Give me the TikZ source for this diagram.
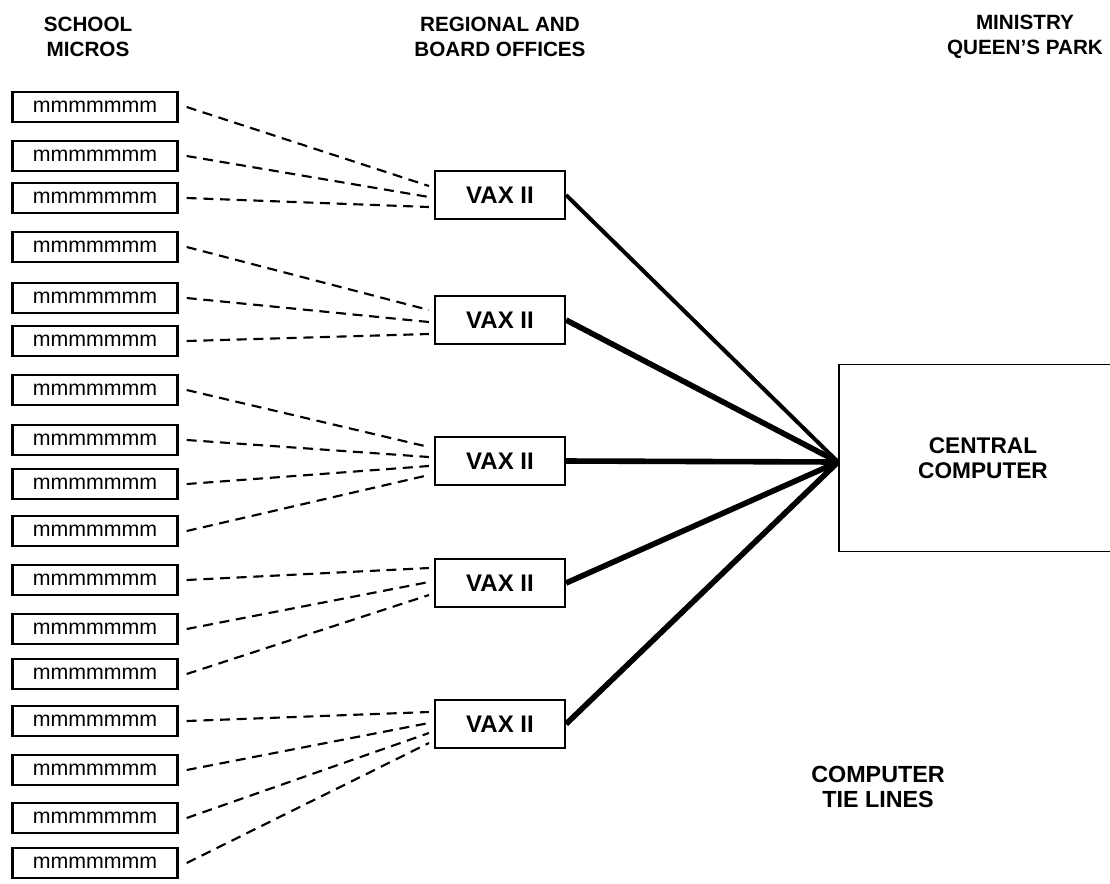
\documentclass[tikz,border=0pt]{standalone}
\usepackage{fontspec}
\setmainfont{Liberation Sans}
\usetikzlibrary{calc}

\tikzset{every picture/.style={line width=0.75pt}}
\tikzset{
	micro/.style={draw, line width=1.8pt, minimum width=123.75pt, minimum height=22.5pt, inner sep=0pt, font=\fontsize{16}{16}\selectfont},
	vax/.style={draw, line width=1.6pt, minimum width=97.5pt, minimum height=36pt, inner sep=0pt, font=\fontsize{18}{18}\selectfont\bfseries},
	hub/.style={draw, line width=1.4pt, minimum width=216pt, minimum height=140.25pt, inner sep=0pt, align=center, font=\fontsize{17}{18.75}\selectfont\bfseries},
	heading/.style={align=center, inner sep=0.75pt, font=\fontsize{15.5}{19}\selectfont\bfseries},
	dashline/.style={line width=1.6pt, dash pattern=on 7.5pt off 5pt},
	tieline/.style={line width=4.2pt}
}

\begin{document}
\begin{tikzpicture}[x=0.75pt,y=0.75pt,yscale=-1,xscale=1]
	%set diagram left start at 0, and has height of 883
	\useasboundingbox (0,0) rectangle (1110,883);

	% Text Node
	\node[heading] (micros) at (88,37) {SCHOOL\\MICROS};
	% Text Node
	\node[heading] (offices) at (500,37) {REGIONAL AND\\BOARD OFFICES};
	% Text Node
	\node[heading] (ministry) at (1025,37) {MINISTRY\\QUEEN'S PARK};
	% Text Node
	\node[heading, font=\fontsize{17.5}{19}\selectfont\bfseries] (tielines) at (878,787) {COMPUTER\\TIE LINES};

	%Shape: Rectangles [school micros]
	\foreach \y [count=\i] in {107,156,198,247,298,341,390,440,484,531,580,629,674,721,770,818,863}
		\node[micro] (m\i) at (95,\y) {mmmmmmm};

	%Shape: Rectangles [vax]
	\foreach \y [count=\i] in {195,320,461,583,724}
		\node[vax] (v\i) at (500,\y) {VAX II};

	%Shape: Rectangle [central computer]
	\node[hub] (central) at (983,458) {CENTRAL\\COMPUTER};
	\coordinate (hubin) at ($(central.west)+(0,4)$);

	%Dashed Lines
	\foreach \i/\j/\d in {1/1/-9, 2/1/2, 3/1/12, 4/2/-10, 5/2/2, 6/2/14, 7/3/-14, 8/3/-4, 9/3/5, 10/3/14, 11/4/-15, 12/4/-1, 13/4/12, 14/5/-12, 15/5/-1, 16/5/9, 17/5/19}
		\draw[dashline] ($(m\i.east)+(8,0)$) -- ($(v\j.west)+(-5,\d)$);

	%Straight Lines [tie lines]
	\draw[tieline, line width=3pt] (v1.east) -- (hubin);
	\foreach \j in {2,...,5}
		\draw[tieline] (v\j.east) -- (hubin);

\end{tikzpicture}
\end{document}
